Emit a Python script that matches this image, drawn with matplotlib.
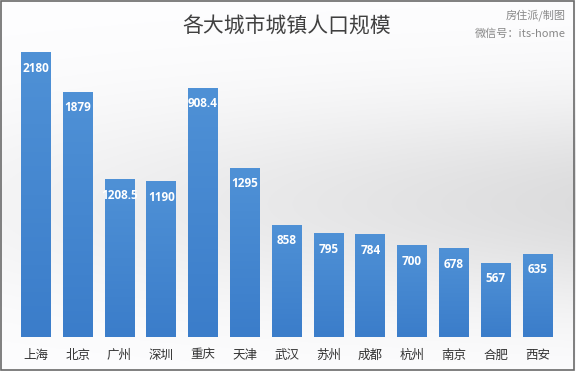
import numpy as np
import matplotlib.pyplot as plt
from matplotlib.colors import LinearSegmentedColormap
from matplotlib.patches import Rectangle

plt.rcParams['font.family'] = ['Noto Sans CJK SC', 'DejaVu Sans']

cities = ['上海', '北京', '广州', '深圳', '重庆', '天津', '武汉',
          '苏州', '成都', '杭州', '南京', '合肥', '西安']
population = [2180, 1879, 1208.5, 1190, 1908.4, 1295, 858,
              795, 784, 700, 678, 567, 635]
# the source image shows 重庆 with its leading "1" cut off
value_labels = ['2180', '1879', '1208.5', '1190', '908.4', '1295', '858',
                '795', '784', '700', '678', '567', '635']

W, H = 576, 371
fig = plt.figure(figsize=(W / 100, H / 100), dpi=100)

# soft grey background, white at top, darkest mid-right
bg = fig.add_axes([0, 0, 1, 1])
yy = np.linspace(0, 1, 200)[:, None]
xx = np.linspace(0, 1, 300)[None, :]
shade = np.exp(-((yy - 0.55) / 0.28) ** 2) * (0.3 + 0.7 * xx)
img = 0.995 - 0.13 * shade
rgb = np.dstack([img, img, img + 0.004])
bg.imshow(np.clip(rgb, 0, 1), extent=[0, 1, 0, 1], aspect='auto', origin='upper')
bg.add_patch(Rectangle((0.001, 0.002), 0.996, 0.996, fill=False,
                       edgecolor='#6a6a6a', lw=1.2, transform=bg.transAxes))
bg.axis('off')

ax = fig.add_axes([14.9 / W, (H - 337.5) / H, 543.4 / W, 312.9 / H])
ax.set_xlim(-0.5, 12.5)
ax.set_ylim(0, 2400)
ax.patch.set_alpha(0)

bar_cmap = LinearSegmentedColormap.from_list('bars', ['#3b7dca', '#4f91d6'])
grad = np.linspace(0, 1, 100)[:, None]
width = 0.71
x = np.arange(len(cities))
bars = ax.bar(x, population, width=width, color='none', edgecolor='none')
for b in bars:
    x0, h = b.get_x(), b.get_height()
    ax.imshow(grad, cmap=bar_cmap, extent=[x0, x0 + width, 0, h],
              aspect='auto', origin='lower', zorder=2)

for xi, v, lab in zip(x, population, value_labels):
    ax.annotate(lab, (xi, v), xytext=(0, -11), textcoords='offset points',
                ha='center', va='center', color='white', fontsize=8.5,
                fontweight='bold', family=['Open Sans', 'DejaVu Sans'], zorder=3)

ax.set_xticks(x)
ax.set_xticklabels(cities, fontsize=9, color='#333333')
ax.tick_params(axis='x', length=0, pad=8)
ax.set_yticks([])
for s in ax.spines.values():
    s.set_visible(False)

fig.text(287 / W, 1 - 27 / H, '各大城市城镇人口规模', ha='center', va='center',
         fontsize=15, color='#404040', fontweight='light')
fig.text(566 / W, 1 - 15 / H, '房住派/制图', ha='right', va='center',
         fontsize=8, color='#888888')
fig.text(566 / W, 1 - 34 / H, '微信号：its-home', ha='right', va='center',
         fontsize=8, color='#888888')

fig.savefig('out.png', dpi=100)
